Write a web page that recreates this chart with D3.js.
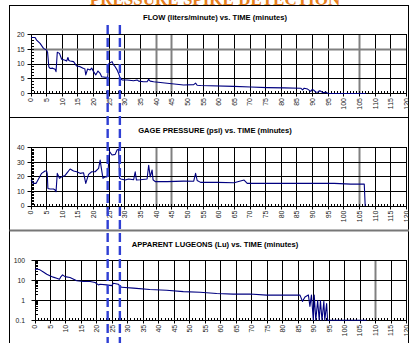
<!DOCTYPE html>
<html>
<head>
<meta charset="utf-8">
<script src="https://cdn.jsdelivr.net/npm/d3@7"></script>
<style>
  html, body { margin: 0; padding: 0; background: #fff; }
  svg { display: block; font-family: "Liberation Sans", Arial, sans-serif; }
</style>
</head>
<body>
<svg id="chart" width="409" height="343"></svg>
<script>
// ---- data ----
const mainTitle = "PRESSURE SPIKE DETECTION"
const timeTicks = d3.range(0, 121, 5)
const spikeTimes = [24.5, 28.4]

const flowTitle = "FLOW (liters/minute) vs. TIME (minutes)"
const flowTicks = [0, 5, 10, 15, 20]
const flowTime = [0, 1.3, 1.8, 2.9, 4.0, 5.0, 5.3, 5.7, 6.1, 6.9, 7.7, 8.0, 8.4, 9.1, 9.8, 10.9, 11.4, 11.8, 12.1, 12.5,
  13.6, 14.6, 15.7, 16.8, 17.2, 17.5, 18.1, 18.9, 19.4, 20.0, 20.7, 21.4, 22.1, 22.6, 23.7, 24.5, 24.9, 25.9, 26.4, 26.9,
  27.5, 28.0, 28.5, 29.1, 30.7, 32.8, 33.9, 34.4, 36.0, 37.1, 37.6, 38.1, 39.2, 43.5, 48.8, 52.0, 52.6, 53.1, 54.2, 64.8,
  70.2, 75.5, 80.9, 86.2, 86.8, 87.3, 88.4, 89.4, 89.9, 90.5, 91.0, 91.6, 92.1, 92.6, 93.2, 93.7, 94.2, 94.8, 95.3, 107]
const flowValues = [19, 19, 18.1, 17, 15.3, 14.7, 14, 9, 8.5, 8.6, 8.2, 7.4, 14, 13.6, 11.6, 11.3, 11.0, 12.2, 11.2, 11,
  10.8, 9.3, 9.1, 8.5, 8.4, 6.3, 8.3, 8, 8.6, 7.4, 6.3, 7.6, 6.8, 5.7, 5.5, 5.5, 10.2, 10.8, 9.7, 9.1,
  8, 6.8, 5.2, 4.6, 4.6, 4.3, 4.6, 4.2, 4, 4.0, 4.8, 4.2, 4, 3.5, 2.9, 3.0, 3.5, 2.8, 2.7, 2.4,
  2.2, 2.0, 1.9, 1.8, 1.2, 1.8, 1.5, 0.7, 1.4, 1.0, 0.5, 0.4, 0.9, 0.8, 0.3, 0.3, 0.5, 0.1, 0, 0]

const pressureTitle = "GAGE PRESSURE (psi) vs. TIME (minutes)"
const pressureTicks = [0, 10, 20, 30, 40]
const pressureTime = [0, 0.4, 0.7, 1.6, 2.4, 3.4, 4.5, 5.0, 5.2, 5.4, 6.1, 7.2, 7.7, 8.0, 8.4, 9.1, 9.8, 10.9, 11.4, 12.5,
  13.6, 14.6, 15.7, 16.8, 17.5, 18.4, 19.4, 20.5, 21.6, 22.1, 22.4, 23.0, 23.7, 24.3, 24.6, 25.1, 25.9, 26.9, 27.5, 28.0,
  28.3, 28.7, 30.1, 31.2, 32.8, 33.3, 33.7, 34.9, 37.1, 37.6, 38.1, 38.7, 39.0, 39.7, 43.5, 48.8, 52.0, 52.6, 53.1, 54.2,
  59.5, 64.9, 68.1, 69.1, 75.5, 86.2, 96.9, 102.2, 106.5, 106.8]
const pressureValues = [17.8, 17, 15.5, 15.5, 18.5, 22.4, 24, 24, 22, 12, 11.7, 11.7, 11, 9.8, 22.4, 19, 20, 21, 22.4, 25.4,
  24, 23.5, 22.4, 22.8, 15.5, 21.7, 23.5, 23.5, 25.8, 31.5, 27, 19, 20, 20, 23.5, 37.3, 35, 35.4, 38.4, 39,
  19, 18.5, 17.8, 18.5, 18, 23.5, 17.8, 18, 18.5, 28, 20, 24.7, 18, 16.7, 16.7, 17.1, 17, 22.4, 17.5, 16.2,
  16.2, 16, 17.8, 15.5, 15.5, 15.5, 15.5, 15, 15, 0]

const lugeonTitle = "APPARENT LUGEONS (Lu) vs. TIME (minutes)"
const lugeonTicks = [0.1, 1, 10, 100]
const lugeonTime = [0, 0.5, 1.6, 2.7, 3.8, 4.8, 5.9, 7.0, 7.9, 8.4, 8.9, 9.7, 11.3, 13.5, 15.6, 17.8, 19.4, 20.5, 21.0, 23.1,
  24.8, 25.3, 26.9, 27.4, 28.0, 31.8, 37.1, 42.5, 47.9, 53.3, 58.7, 64.0, 69.4, 74.8, 80.2, 85.6, 86.4, 87.2, 88.3, 88.8,
  89.3, 89.9, 90.2, 90.7, 91.3, 91.8, 92.2, 92.7, 93.3, 93.6, 94.2, 94.5, 107.1]
const lugeonValues = [35, 39, 35, 27, 21, 17.5, 15, 13.3, 11.8, 16, 19.6, 16, 14.4, 9.8, 9.1, 9.1, 8, 6.1, 6.6, 6.1,
  5.6, 7.4, 6.6, 5.4, 4.6, 4.2, 3.6, 3.3, 2.8, 2.6, 2.26, 2.1, 2.1, 1.86, 1.86, 1.86, 0.9, 1.5, 1.9, 0.5,
  1.9, 0.1, 1.86, 0.1, 1.0, 0.1, 1.0, 0.1, 0.9, 0.1, 0.7, 0.1, 0.1]

// ---- layout ----
const W = 409, H = 343
const plotRight = 406.5
const ink = "#000"
const seriesColor = "#000080"

const panels = [
  { title: flowTitle, time: flowTime, values: flowValues, ticks: flowTicks, log: false,
    left: 31, top: 34.5, bottom: 93.5, titleY: 19.5, greyX: [40, 45, 105], greyY: [15] },
  { title: pressureTitle, time: pressureTime, values: pressureValues, ticks: pressureTicks, log: false,
    left: 31, top: 147.7, bottom: 206, titleY: 133, greyX: [40, 45, 105], greyY: [] },
  { title: lugeonTitle, time: lugeonTime, values: lugeonValues, ticks: lugeonTicks, log: true,
    left: 35, top: 260.8, bottom: 320.3, titleY: 246.5, greyX: [110], greyY: [] }
]

const svg = d3.select("#chart")
svg.append("rect").attr("width", W).attr("height", H).attr("fill", "#fff")

// big title at the very top, clipped by the page edge as in the source
svg.append("text")
  .attr("x", 215).attr("y", 4.5)
  .attr("text-anchor", "middle")
  .attr("font-family", "'Liberation Serif', 'Times New Roman', serif")
  .attr("font-weight", "bold")
  .attr("font-size", 17)
  .attr("fill", "#e8801e")
  .text(mainTitle)

// outer frame + panel separators
svg.append("rect")
  .attr("x", 9.5).attr("y", 5.5).attr("width", 399).attr("height", 360)
  .attr("fill", "none").attr("stroke", ink).attr("stroke-width", 1)
svg.append("line").attr("x1", 9.5).attr("x2", 409).attr("y1", 117.5).attr("y2", 117.5)
  .attr("stroke", ink)
svg.append("line").attr("x1", 9.5).attr("x2", 409).attr("y1", 230.5).attr("y2", 230.5)
  .attr("stroke", "#777").attr("stroke-width", 2)

const snap = v => Math.round(v - 0.5) + 0.5

function drawPanel(p) {
  const x = d3.scaleLinear().domain([0, 120]).range([p.left, plotRight])
  const y = (p.log ? d3.scaleLog() : d3.scaleLinear())
    .domain(d3.extent(p.ticks)).range([p.bottom, p.top])
  const g = svg.append("g")

  g.append("text")
    .attr("x", 215).attr("y", p.titleY)
    .attr("text-anchor", "middle")
    .attr("font-weight", "bold").attr("font-size", 7.6)
    .text(p.title)

  // grid through d3 axes with full-length ticks
  const h = Math.round(p.bottom) - Math.round(p.top)
  const vgrid = g.append("g")
    .attr("transform", `translate(0,${Math.round(p.bottom)})`)
    .call(d3.axisBottom(x).tickValues(timeTicks.slice(1, -1)).tickSize(-h).tickFormat("").offset(0))
  vgrid.select(".domain").remove()
  vgrid.selectAll(".tick").attr("transform", d => `translate(${snap(x(d))},0)`)
  vgrid.selectAll(".tick line")
    .attr("stroke", d => p.greyX.includes(d) ? "#808080" : "#000")
    .attr("stroke-width", d => p.greyX.includes(d) ? 2 : 1)

  const hgrid = g.append("g")
    .attr("transform", `translate(${Math.round(p.left)},0)`)
    .call(d3.axisLeft(y).tickValues(p.ticks.slice(1, -1)).tickSize(-(Math.round(plotRight) - Math.round(p.left))).tickFormat("").offset(0))
  hgrid.select(".domain").remove()
  hgrid.selectAll(".tick").attr("transform", d => `translate(0,${snap(y(d))})`)
  hgrid.selectAll(".tick line")
    .attr("stroke", d => p.greyY.includes(d) ? "#808080" : "#000")
    .attr("stroke-width", d => p.greyY.includes(d) ? 2 : 1)

  // axes lines
  g.append("line").attr("x1", snap(p.left)).attr("x2", snap(p.left))
    .attr("y1", p.top).attr("y2", p.bottom + 0.5).attr("stroke", ink)
  g.append("line").attr("x1", p.left).attr("x2", plotRight + 0.5)
    .attr("y1", snap(p.bottom)).attr("y2", snap(p.bottom)).attr("stroke", ink)

  // x ticks: major outward, minor inward every minute
  const minorX = d3.range(1, 120).filter(d => d % 5 !== 0)
  g.selectAll("line.xminor").data(minorX).join("line")
    .attr("class", "xminor")
    .attr("x1", d => snap(x(d))).attr("x2", d => snap(x(d)))
    .attr("y1", snap(p.bottom)).attr("y2", snap(p.bottom) - 2.5)
    .attr("stroke", ink)
  g.selectAll("line.xmajor").data(timeTicks).join("line")
    .attr("class", "xmajor")
    .attr("x1", d => snap(x(d))).attr("x2", d => snap(x(d)))
    .attr("y1", snap(p.bottom) - 2.5).attr("y2", snap(p.bottom) + 3)
    .attr("stroke", ink)
  g.selectAll("text.xlab").data(timeTicks).join("text")
    .attr("class", "xlab")
    .attr("transform", d => `translate(${x(d) + 2.4},${p.bottom + 4.5}) rotate(-90)`)
    .attr("text-anchor", "end")
    .attr("font-size", 7).attr("fill", "#222")
    .text(d => d)

  // y ticks
  let minorY
  if (p.log) {
    minorY = []
    for (const dec of [0.1, 1, 10]) for (let k = 2; k < 10; k++) minorY.push(dec * k)
  } else {
    minorY = d3.range(p.ticks[0], p.ticks[p.ticks.length - 1], 1).filter(d => !p.ticks.includes(d))
  }
  g.selectAll("line.yminor").data(minorY).join("line")
    .attr("class", "yminor")
    .attr("x1", snap(p.left)).attr("x2", snap(p.left) + 2.5)
    .attr("y1", d => snap(y(d))).attr("y2", d => snap(y(d)))
    .attr("stroke", ink)
  g.selectAll("line.ymajor").data(p.ticks).join("line")
    .attr("class", "ymajor")
    .attr("x1", snap(p.left) - 4).attr("x2", snap(p.left) + 2.5)
    .attr("y1", d => snap(y(d))).attr("y2", d => snap(y(d)))
    .attr("stroke", ink)
  g.selectAll("text.ylab").data(p.ticks).join("text")
    .attr("class", "ylab")
    .attr("x", p.log ? 25 : 24.5).attr("y", d => y(d) + 2.3)
    .attr("text-anchor", "end")
    .attr("font-size", 6.8).attr("fill", "#222")
    .text(d => d)

  // plot frame top/right
  g.append("line").attr("x1", p.left).attr("x2", plotRight + 0.5)
    .attr("y1", snap(p.top)).attr("y2", snap(p.top)).attr("stroke", ink)
  g.append("line").attr("x1", snap(plotRight)).attr("x2", snap(plotRight))
    .attr("y1", p.top).attr("y2", p.bottom).attr("stroke", ink)

  // series
  const pts = p.time.map((t, i) => [t, p.values[i]])
  const line = d3.line().x(d => x(d[0])).y(d => y(d[1]))
  g.append("path").datum(pts)
    .attr("d", line)
    .attr("fill", "none")
    .attr("stroke", seriesColor)
    .attr("stroke-width", 1.1)
    .attr("stroke-linejoin", "round")

  return { x, y }
}

const scales = panels.map(drawPanel)

// dashed spike markers spanning all panels
svg.selectAll("line.spike").data(spikeTimes).join("line")
  .attr("class", "spike")
  .attr("x1", d => scales[0].x(d)).attr("x2", d => scales[0].x(d))
  .attr("y1", 25).attr("y2", H)
  .attr("stroke", "#2f3fd4")
  .attr("stroke-width", 2.4)
  .attr("stroke-dasharray", "9,4")
</script>
</body>
</html>
